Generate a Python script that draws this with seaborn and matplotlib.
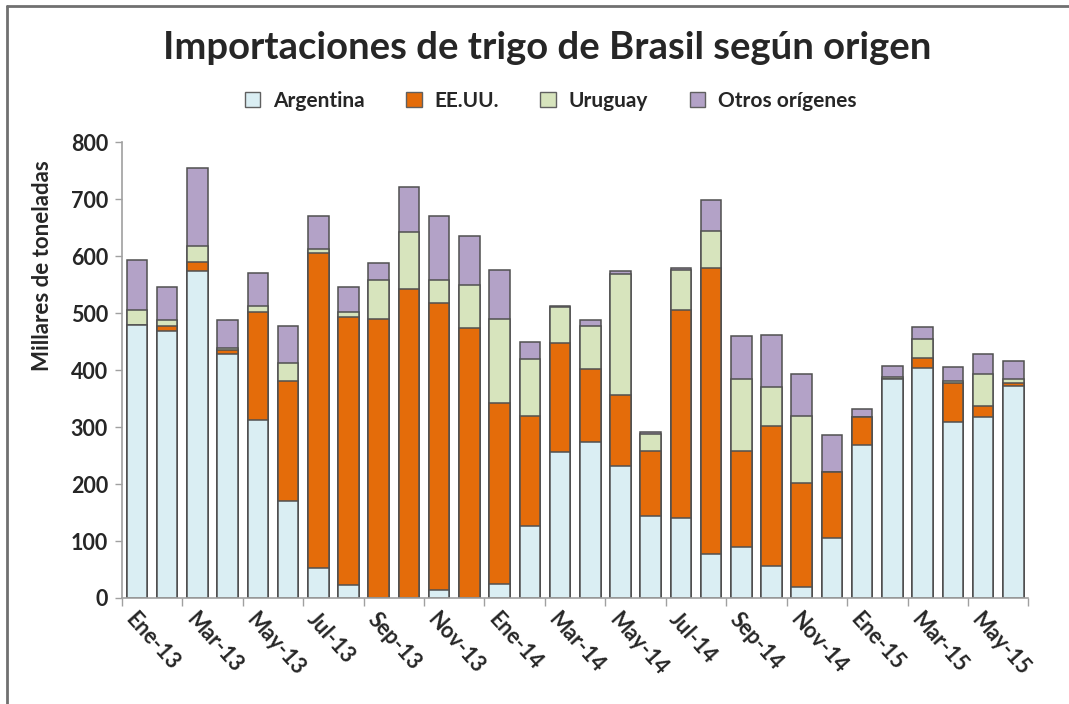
import numpy as np
import pandas as pd
import seaborn as sns
import matplotlib.pyplot as plt
from matplotlib.lines import Line2D
from matplotlib.patches import Patch

# monthly wheat imports by origin (thousand tonnes), Jan-13 .. Jun-15
months = ['Ene-13', 'Feb-13', 'Mar-13', 'Abr-13', 'May-13', 'Jun-13',
          'Jul-13', 'Ago-13', 'Sep-13', 'Oct-13', 'Nov-13', 'Dic-13',
          'Ene-14', 'Feb-14', 'Mar-14', 'Abr-14', 'May-14', 'Jun-14',
          'Jul-14', 'Ago-14', 'Sep-14', 'Oct-14', 'Nov-14', 'Dic-14',
          'Ene-15', 'Feb-15', 'Mar-15', 'Abr-15', 'May-15', 'Jun-15']
argentina = [480, 469, 574, 429, 313, 170, 52, 22, 0, 0, 14, 0,
             25, 127, 257, 274, 232, 144, 140, 78, 89, 56, 19, 106,
             268, 385, 404, 309, 317, 372]
eeuu = [0, 8, 16, 7, 189, 210, 554, 472, 489, 542, 503, 474,
        317, 193, 190, 128, 124, 114, 366, 502, 169, 245, 182, 116,
        49, 0, 18, 68, 20, 5]
uruguay = [26, 11, 27, 3, 11, 32, 7, 8, 70, 101, 42, 75,
           147, 99, 64, 76, 212, 30, 69, 64, 126, 70, 119, 0,
           0, 3, 32, 3, 57, 8]
otros = [87, 58, 137, 49, 58, 66, 58, 44, 29, 79, 111, 87,
         86, 30, 2, 10, 6, 4, 5, 55, 76, 90, 74, 64,
         14, 20, 21, 25, 35, 31]
series_names = ['Argentina', 'EE.UU.', 'Uruguay', 'Otros orígenes']
colors = ['#DAEEF3', '#E46C0A', '#D7E4BD', '#B3A2C7']

df = pd.DataFrame({'Mes': months, 'Argentina': argentina, 'EE.UU.': eeuu,
                   'Uruguay': uruguay, 'Otros orígenes': otros})
cum = df[series_names].cumsum(axis=1)

sns.set_style('white')
plt.rcParams['font.family'] = ['Lato', 'DejaVu Sans']

fig = plt.figure(figsize=(10.69, 7.04), dpi=100)
ax = fig.add_axes([0.114, 0.1506, 0.848, 0.6474])

# stacked bars: draw cumulative totals from the top layer down
for name, col in reversed(list(zip(series_names, colors))):
    sns.barplot(x=df['Mes'], y=cum[name], color=col, width=0.68,
                edgecolor='#505050', linewidth=1.1, saturation=1, ax=ax)

ax.set_ylim(0, 800)
ax.set_xlim(-0.5, len(months) - 0.5)
ax.set_yticks(range(0, 801, 100))
ax.tick_params(axis='y', labelsize=15.5, length=5, width=1, color='#A0A0A0',
               direction='out', left=True, pad=5)
for t in ax.get_yticklabels():
    t.set_fontweight('bold')

# labels every two months, tick marks on the category boundaries
ax.set_xticks(range(0, len(months), 2))
ax.set_xticklabels(months[::2], rotation=-48, ha='left', va='top',
                   rotation_mode='anchor', fontsize=15.5, fontweight='bold')
ax.tick_params(axis='x', length=0, pad=8)
ax.set_xticks(np.arange(-0.5, len(months), 2), minor=True)
ax.tick_params(axis='x', which='minor', length=6, width=1, color='#A0A0A0',
               direction='out', bottom=True)

for s in ['top', 'right']:
    ax.spines[s].set_visible(False)
for s in ['left', 'bottom']:
    ax.spines[s].set_color('#A0A0A0')
    ax.spines[s].set_linewidth(1.2)

ax.set_xlabel('')
ax.set_ylabel('Millares de toneladas', fontsize=16, fontweight='bold')
ax.yaxis.set_label_coords(-0.076, 0.73)

fig.suptitle('Importaciones de trigo de Brasil según origen', x=0.512, y=0.956,
             fontsize=27.5, fontweight='bold')

handles = [Patch(facecolor=c, edgecolor='#606060', linewidth=1) for c in colors]
fig.legend(handles, series_names, loc='center', bbox_to_anchor=(0.515, 0.857),
           ncol=4, frameon=False, handlelength=0.75, handleheight=0.75,
           handletextpad=0.6, columnspacing=2.0,
           prop={'size': 15, 'weight': 'bold'})

# outer chart border (top and left visible)
fig.add_artist(Line2D([0.007, 1.0], [0.991, 0.991], color='#707070', lw=2,
                      transform=fig.transFigure))
fig.add_artist(Line2D([0.007, 0.007], [0.0, 0.991], color='#707070', lw=2,
                      transform=fig.transFigure))

fig.savefig('out.png', dpi=100)
